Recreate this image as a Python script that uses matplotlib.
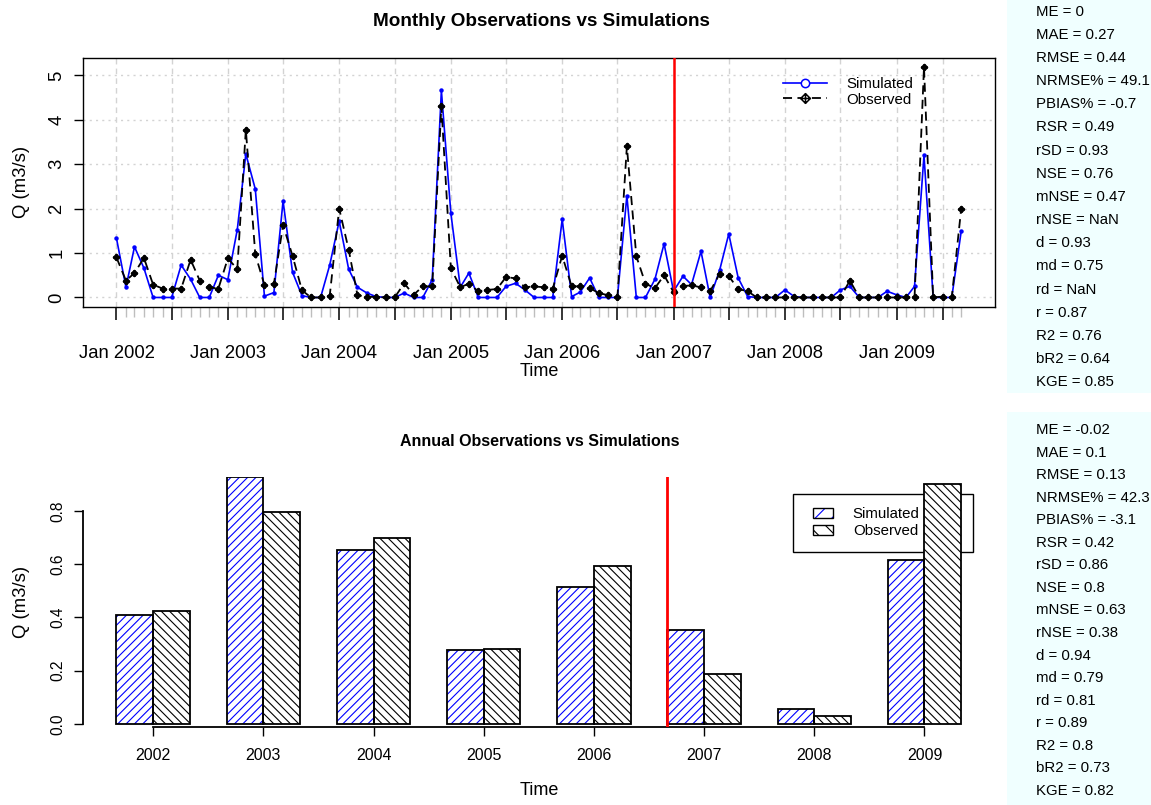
import numpy as np
import pandas as pd
import matplotlib
matplotlib.use("Agg")
import matplotlib.pyplot as plt
import matplotlib.dates as mdates
from matplotlib.path import Path
from matplotlib.patches import Rectangle, Patch
from matplotlib.lines import Line2D
from matplotlib.legend_handler import HandlerTuple

plt.rcParams['font.family'] = ['Liberation Sans', 'DejaVu Sans']
plt.rcParams['hatch.linewidth'] = 0.8

# monthly series, Jan 2002 .. Aug 2009
sim_monthly = [1.33, 0.23, 1.14, 0.66, 0, 0, 0, 0.73, 0.41, 0, 0, 0.5,
               0.4, 1.53, 3.23, 2.44, 0.03, 0.11, 2.17, 0.57, 0.04, 0, 0, 0.73,
               1.72, 0.64, 0.23, 0.1, 0.02, 0, 0, 0.1, 0, 0, 0.4, 4.66,
               1.9, 0.23, 0.55, 0, 0, 0, 0.25, 0.32, 0.17, 0, 0, 0,
               1.76, 0.02, 0.12, 0.44, 0, 0, 0, 2.29, 0, 0, 0.41, 1.21,
               0.14, 0.48, 0.29, 1.04, 0, 0.61, 1.43, 0.44, 0.02, 0, 0, 0,
               0.17, 0.02, 0, 0, 0, 0, 0.17, 0.25, 0, 0, 0, 0.14,
               0.06, 0, 0.25, 3.2, 0, 0, 0, 1.49]
obs_monthly = [0.9, 0.38, 0.55, 0.89, 0.29, 0.2, 0.2, 0.2, 0.85, 0.38, 0.23, 0.2,
               0.88, 0.64, 3.78, 0.97, 0.28, 0.31, 1.63, 0.94, 0.16, 0, 0, 0.04,
               2.0, 1.08, 0.05, 0.02, 0.01, 0, 0, 0.32, 0.06, 0.25, 0.25, 4.31,
               0.66, 0.23, 0.31, 0.14, 0.17, 0.19, 0.46, 0.43, 0.23, 0.25, 0.23, 0.2,
               0.94, 0.25, 0.25, 0.21, 0.1, 0.05, 0, 3.4, 0.93, 0.31, 0.21, 0.5,
               0.12, 0.26, 0.27, 0.23, 0.14, 0.53, 0.48, 0.19, 0.14, 0, 0, 0,
               0, 0, 0, 0, 0, 0, 0, 0.38, 0, 0, 0, 0,
               0, 0, 0, 5.19, 0, 0.02, 0, 2.0]

years = ["2002", "2003", "2004", "2005", "2006", "2007", "2008", "2009"]
sim_annual = [0.409, 0.929, 0.653, 0.277, 0.514, 0.354, 0.056, 0.614]
obs_annual = [0.425, 0.795, 0.697, 0.282, 0.592, 0.189, 0.028, 0.900]

stat_names = ["ME", "MAE", "RMSE", "NRMSE%", "PBIAS%", "RSR", "rSD", "NSE", "mNSE",
              "rNSE", "d", "md", "rd", "r", "R2", "bR2", "KGE"]
stats_monthly = ["0", "0.27", "0.44", "49.1", "-0.7", "0.49", "0.93", "0.76", "0.47",
                 "NaN", "0.93", "0.75", "NaN", "0.87", "0.76", "0.64", "0.85"]
stats_annual = ["-0.02", "0.1", "0.13", "42.3", "-3.1", "0.42", "0.86", "0.8", "0.63",
                "0.38", "0.94", "0.79", "0.81", "0.89", "0.8", "0.73", "0.82"]

W, H = 1151, 805
fig = plt.figure(figsize=(W / 100, H / 100), dpi=100)


def fx(px):
    return px / W


def fy(py):
    return 1 - py / H


# diamond with a cross (R pch 9)
dpl = Path([(0, 1), (1, 0), (0, -1), (-1, 0), (0, 1), (0, 1), (0, -1), (-1, 0), (1, 0)],
           [Path.MOVETO, Path.LINETO, Path.LINETO, Path.LINETO, Path.CLOSEPOLY,
            Path.MOVETO, Path.LINETO, Path.MOVETO, Path.LINETO])

# ---------- monthly panel ----------
ax1 = fig.add_axes([fx(82.7), fy(306.7), fx(995 - 82.7), (306.7 - 57.7) / H])
dates = pd.date_range("2002-01-01", periods=len(sim_monthly), freq="MS")
x = mdates.date2num(dates)
span = x[-1] - x[0]
ax1.set_xlim(x[0] - 0.04 * span, x[-1] + 0.04 * span)
ymax = max(max(sim_monthly), max(obs_monthly))
ax1.set_ylim(-0.04 * ymax, 1.04 * ymax)

major = [d for d in dates if d.month in (1, 7)] + [pd.Timestamp("2009-06-01")]
major = [d for d in major if d != pd.Timestamp("2009-07-01")]
ax1.set_xticks(mdates.date2num(major))
ax1.set_xticklabels([d.strftime("Jan %Y") if d.month == 1 else "" for d in major])
ax1.set_xticks(x, minor=True)
ax1.tick_params(axis="x", which="major", length=9.6, width=1.1, labelsize=13.3, pad=18)
ax1.tick_params(axis="x", which="minor", length=7.2, width=1.0, color="#BEBEBE")
ax1.set_yticks(range(6))
ax1.tick_params(axis="y", length=6.3, width=1.0, labelsize=13.3, pad=6)
for lb in ax1.get_yticklabels():
    lb.set_rotation(90)
    lb.set_va("center")

for xv in mdates.date2num(major):
    ax1.axvline(xv, color="#D3D3D3", lw=1, ls=(0, (4, 3)), zorder=0)
for yv in range(6):
    ax1.axhline(yv, color="#D3D3D3", lw=1, ls=(0, (1.5, 3)), zorder=0)

ax1.plot(x, sim_monthly, color="blue", lw=1.2, marker="o", ms=2.2, zorder=3)
ax1.plot(x, obs_monthly, color="black", lw=1.3, ls=(0, (5, 3)), marker=dpl, ms=4,
         mfc="none", mew=1.5, zorder=4)
ax1.axvline(mdates.date2num(pd.Timestamp("2007-01-01")), color="red", lw=1.8, zorder=5)
for s in ax1.spines.values():
    s.set_linewidth(1.0)

ax1.set_ylabel("Q (m3/s)", fontsize=13.3)
ax1.yaxis.set_label_coords((30 - 82.7) / 912.3, 0.5)
ax1.set_xlabel("Time", fontsize=13)
ax1.xaxis.set_label_coords(0.5, (306.7 - 363) / 249)

h1 = [Line2D([], [], color="blue", lw=1.2, marker="o", ms=6, mfc="white", mew=1.1),
      Line2D([], [], color="black", lw=1.3, ls=(0, (5, 3)), marker=dpl, ms=7,
             mfc="white", mew=1.1)]
ax1.legend(h1, ["Simulated", "Observed"], loc="upper left", frameon=False,
           bbox_to_anchor=(fx(777), fy(71)), bbox_transform=fig.transFigure,
           fontsize=10.8, handlelength=2.9, handletextpad=1.3, labelspacing=0.1,
           borderpad=0.4, borderaxespad=0)

fig.text(fx(541), fy(22), "Monthly Observations vs Simulations", ha="center",
         va="center", fontsize=13.6, fontweight="bold")

# ---------- annual panel ----------
ax2 = fig.add_axes([fx(82.7), fy(726.7), fx(995 - 82.7), (726.7 - 476.7) / H])
n = len(years)
sim_left = [1 + 3 * k for k in range(n)]
obs_left = [2 + 3 * k for k in range(n)]
ax2.set_xlim(1 - 0.04 * 23, 24 + 0.04 * 23)
atop = max(max(sim_annual), max(obs_annual))
ax2.set_ylim(-0.011, atop)

# legend box first, bars drawn over it
ax2.add_patch(Rectangle((fx(793.3), fy(551.7)), fx(180), 57.7 / H,
                        transform=fig.transFigure, facecolor="white",
                        edgecolor="black", lw=1.0, zorder=1, clip_on=False))

ax2.bar(sim_left, sim_annual, width=1, align="edge", facecolor="white",
        edgecolor="blue", hatch="////", linewidth=0, zorder=2)
ax2.bar(sim_left, sim_annual, width=1, align="edge", fill=False,
        edgecolor="black", linewidth=1.3, zorder=3)
ax2.bar(obs_left, obs_annual, width=1, align="edge", facecolor="white",
        edgecolor="black", hatch="\\\\\\\\", linewidth=0, zorder=2)
ax2.bar(obs_left, obs_annual, width=1, align="edge", fill=False,
        edgecolor="black", linewidth=1.3, zorder=3)
ax2.axvline(sim_left[5], color="red", lw=2.0, zorder=5)

ax2.spines["top"].set_visible(False)
ax2.spines["right"].set_visible(False)
ax2.spines["left"].set_bounds(0, 0.8)
ax2.spines["bottom"].set_bounds(obs_left[0], obs_left[-1])
for s in ax2.spines.values():
    s.set_linewidth(1.3)
ax2.set_xticks(obs_left)
ax2.set_xticklabels(years)
ax2.tick_params(axis="x", length=6.7, width=1.0, labelsize=11.5, pad=8.5)
ax2.set_yticks([0, 0.2, 0.4, 0.6, 0.8])
ax2.set_yticklabels(["0.0", "0.2", "0.4", "0.6", "0.8"])
ax2.tick_params(axis="y", length=6.3, width=1.0, labelsize=11.2, pad=6)
for lb in ax2.get_yticklabels():
    lb.set_rotation(90)
    lb.set_va("center")

ax2.set_ylabel("Q (m3/s)", fontsize=13.3)
ax2.yaxis.set_label_coords((30 - 82.7) / 912.3, 0.5)
ax2.set_xlabel("Time", fontsize=13)
ax2.xaxis.set_label_coords(0.5, (726.7 - 782) / 250)

h2 = [(Patch(facecolor="white", edgecolor="blue", hatch="//", lw=0),
       Patch(fill=False, edgecolor="black", lw=1.0)),
      (Patch(facecolor="white", edgecolor="black", hatch="\\\\", lw=0),
       Patch(fill=False, edgecolor="black", lw=1.0))]
leg2 = ax2.legend(h2, ["Simulated", "Observed"], loc="upper left", frameon=False,
                  bbox_to_anchor=(fx(807), fy(501)), bbox_transform=fig.transFigure,
                  fontsize=10.8, handlelength=1.35, handleheight=0.65,
                  handletextpad=1.3, labelspacing=0.2, borderpad=0.4, borderaxespad=0,
                  handler_map={tuple: HandlerTuple(ndivide=1, pad=0)})
leg2.set_zorder(1.5)

fig.text(fx(540), fy(441), "Annual Observations vs Simulations", ha="center",
         va="center", fontsize=11.5, fontweight="bold")

# ---------- goodness-of-fit boxes ----------
fig.add_artist(Rectangle((fx(1007), fy(393)), fx(W - 1007), 393 / H,
                         transform=fig.transFigure, facecolor="#F0FFFF",
                         edgecolor="none", zorder=0))
fig.add_artist(Rectangle((fx(1007), 0), fx(W - 1007), (H - 412) / H,
                         transform=fig.transFigure, facecolor="#F0FFFF",
                         edgecolor="none", zorder=0))
for i, (nm, v) in enumerate(zip(stat_names, stats_monthly)):
    fig.text(fx(1036), fy(11.7 + 23.15 * i), f"{nm} = {v}", ha="left",
             va="center", fontsize=10.8)
for i, (nm, v) in enumerate(zip(stat_names, stats_annual)):
    fig.text(fx(1036), fy(430 + 22.56 * i), f"{nm} = {v}", ha="left",
             va="center", fontsize=10.8)

fig.savefig("out.png", dpi=100)
